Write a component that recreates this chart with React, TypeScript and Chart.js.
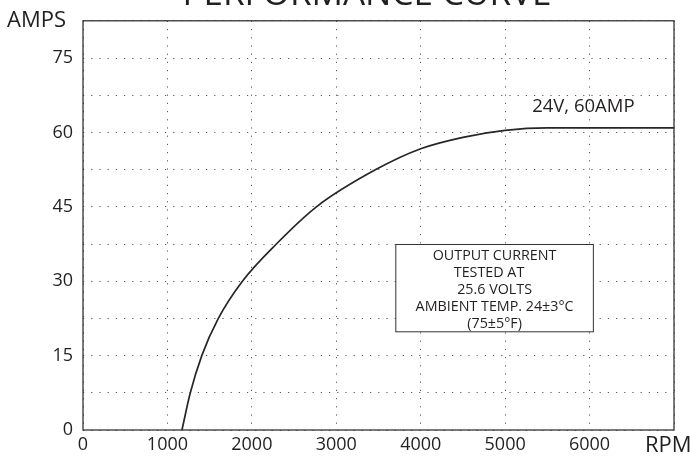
import React, { useEffect, useRef } from "react";
import { Chart, registerables } from "chart.js";

Chart.register(...registerables);

const rpmValues = [1172, 1271, 1407, 1603, 1888, 2290, 2765, 3468, 4000, 4500, 5000, 5500, 6000, 7000];
const ampValues = [0, 7.5, 15, 22.5, 30, 37.5, 45, 52.5, 56.7, 59.0, 60.4, 60.9, 60.9, 60.9];
const xTickLabels = ["0", "1000", "2000", "3000", "4000", "5000", "6000"];
const yTickLabels = ["0", "15", "30", "45", "60", "75"];
const titleText = "PERFORMANCE CURVE";
const yAxisName = "AMPS";
const xAxisName = "RPM";
const curveLabel = "24V, 60AMP";
const noteLines = ["OUTPUT CURRENT", "TESTED AT   ", "25.6 VOLTS", "AMBIENT TEMP. 24±3°C", "(75±5°F)"];

const FONT = "'Open Sans', 'Noto Sans', sans-serif";
const INK = "#231f20";

const decorPlugin = {
  id: "decor",
  afterDraw(chart: any) {
    const { ctx, chartArea } = chart;
    const xs = chart.scales.x;
    const ys = chart.scales.y;
    ctx.save();
    // frame
    ctx.strokeStyle = "#333333";
    ctx.lineWidth = 1.3;
    ctx.setLineDash([]);
    ctx.strokeRect(chartArea.left, chartArea.top, chartArea.right - chartArea.left, chartArea.bottom - chartArea.top);

    // title (cut at top)
    ctx.fillStyle = INK;
    ctx.font = `35px ${FONT}`;
    ctx.textAlign = "center";
    ctx.textBaseline = "alphabetic";
    ctx.fillText(titleText, 367, 5);

    // axis names
    ctx.font = `22px ${FONT}`;
    ctx.textAlign = "left";
    ctx.fillText(yAxisName, 7, 27);
    ctx.fillText(xAxisName, 645, 452);

    // curve label
    ctx.font = `18.5px ${FONT}`;
    ctx.fillText(curveLabel, xs.getPixelForValue(5320), ys.getPixelForValue(64.2));

    // note box
    const bx0 = xs.getPixelForValue(3705);
    const bx1 = xs.getPixelForValue(6045);
    const by0 = ys.getPixelForValue(37.4);
    const by1 = ys.getPixelForValue(19.8);
    ctx.fillStyle = "#ffffff";
    ctx.fillRect(bx0, by0, bx1 - bx0, by1 - by0);
    ctx.strokeStyle = "#333333";
    ctx.lineWidth = 1;
    ctx.strokeRect(bx0, by0, bx1 - bx0, by1 - by0);
    ctx.fillStyle = INK;
    ctx.font = `14.3px ${FONT}`;
    ctx.textAlign = "center";
    ctx.textBaseline = "middle";
    const cx = (bx0 + bx1) / 2;
    noteLines.forEach((line, i) => {
      ctx.fillText(line, cx, by0 + 11 + i * 17.2);
    });
    ctx.restore();
  },
};

export default function App() {
  const canvasRef = useRef<HTMLCanvasElement | null>(null);

  useEffect(() => {
    document.body.style.margin = "0";
    const canvas = canvasRef.current;
    if (!canvas) return;
    const points = rpmValues.map((x, i) => ({ x, y: ampValues[i] }));
    const chart = new Chart(canvas, {
      type: "scatter",
      data: {
        datasets: [
          {
            data: points,
            showLine: true,
            borderColor: "#262626",
            borderWidth: 1.7,
            pointRadius: 0,
            cubicInterpolationMode: "monotone",
          } as any,
        ],
      },
      options: {
        animation: false,
        responsive: true,
        maintainAspectRatio: false,
        layout: { padding: { left: 0, right: 17, top: 18, bottom: 0 } },
        plugins: {
          legend: { display: false },
          tooltip: { enabled: false },
          title: { display: false },
        },
        scales: {
          x: {
            type: "linear",
            min: 0,
            max: 7000,
            ticks: {
              stepSize: 1000,
              color: INK,
              font: { family: FONT, size: 18 },
              padding: 4,
              maxRotation: 0,
              autoSkip: false,
              callback: (v: any) => {
                const s = String(v);
                return xTickLabels.includes(s) ? s : "";
              },
            },
            grid: { color: "#5a5a5a", lineWidth: 1, drawTicks: false },
            border: { display: false, dash: [1.2, 7] },
            afterFit: (scale: any) => {
              scale.height = 27;
            },
          },
          y: {
            type: "linear",
            min: 0,
            max: 82.5,
            ticks: {
              stepSize: 7.5,
              color: INK,
              font: { family: FONT, size: 18 },
              padding: 10,
              autoSkip: false,
              callback: (v: any) => {
                const s = String(v);
                return yTickLabels.includes(s) ? s : "";
              },
            },
            grid: { color: "#5a5a5a", lineWidth: 1, drawTicks: false },
            border: { display: false, dash: [1.2, 7] },
            afterFit: (scale: any) => {
              scale.width = 83;
            },
          },
        },
      },
      plugins: [decorPlugin],
    });
    return () => chart.destroy();
  }, []);

  return (
    <div style={{ position: "absolute", left: 0, top: 0, width: 691, height: 457, background: "#fff" }}>
      <canvas ref={canvasRef} />
    </div>
  );
}
